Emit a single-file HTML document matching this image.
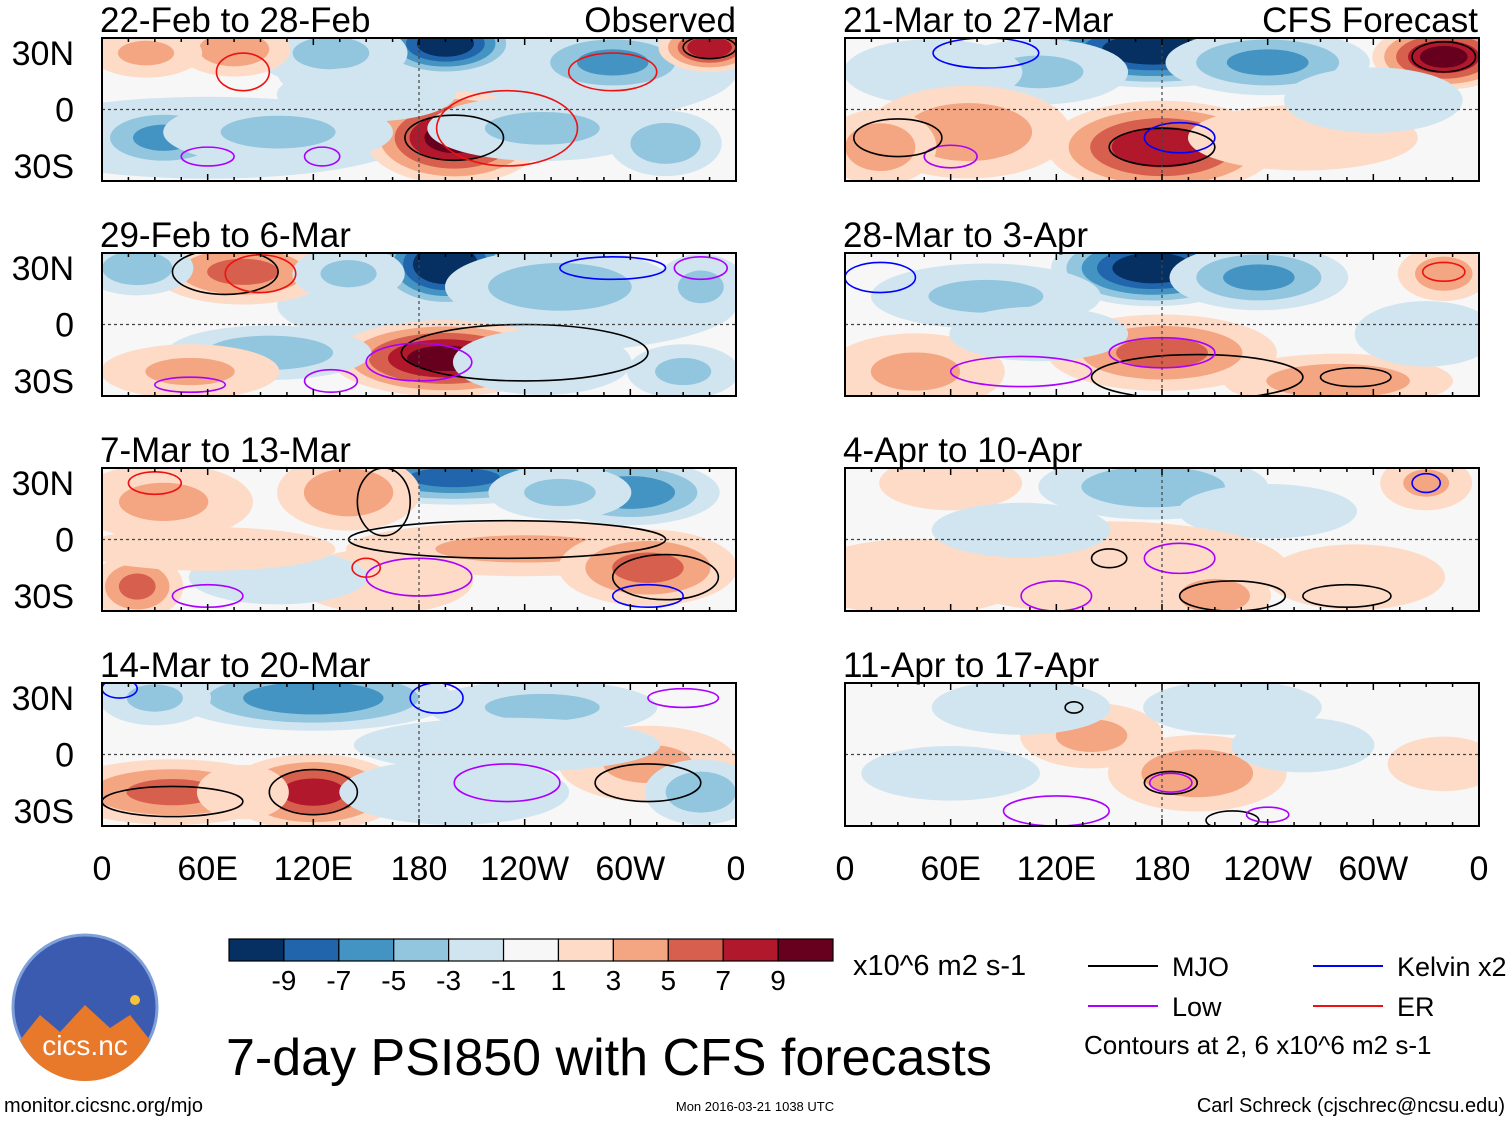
<!DOCTYPE html>
<html><head><meta charset="utf-8">
<style>
body{margin:0;background:#fff;width:1510px;height:1121px;overflow:hidden;font-family:"Liberation Sans",sans-serif}
svg{position:absolute;left:0;top:0}
</style></head>
<body>
<svg id="s" width="1510" height="1121" xmlns="http://www.w3.org/2000/svg">
</svg>
<script>
const levelColors=["#053061","#2166ac","#4393c3","#92c5de","#d1e5f0","#f7f7f7","#fddbc7","#f4a582","#d6604d","#b2182b","#67001f"];
const levelTicks=["-9","-7","-5","-3","-1","1","3","5","7","9"];
const panelTitles=["22-Feb to 28-Feb","29-Feb to 6-Mar","7-Mar to 13-Mar","14-Mar to 20-Mar","21-Mar to 27-Mar","28-Mar to 3-Apr","4-Apr to 10-Apr","11-Apr to 17-Apr"];
const xTickLabels=["0","60E","120E","180","120W","60W","0"];
const xTickLons=[0,60,120,180,240,300,360];
const yTickLabels=["30N","0","30S"];
const yTickLats=[30,0,-30];
// blobs: [lon, lat, lonRadius, latRadius, peak value]
const p1Blobs=[[230,20,90,20,-2],[60,-15,80,15,-2],[195,35,28,12,-10],[290,25,35,12,-5],[130,30,30,12,-3],[75,32,22,10,4],[25,30,22,9,3],[345,33,20,9,8],[200,-15,35,17,9],[35,-15,30,12,-5],[100,-12,45,12,-3],[250,-10,45,12,-3],[320,-18,22,12,-4],[150,8,35,10,-2]];
const p2Blobs=[[230,10,90,18,-2],[195,32,28,16,-11],[260,20,45,14,-4],[80,28,35,12,5],[140,27,22,10,-3],[20,30,22,10,-4],[195,-18,45,14,9],[95,-15,40,10,-4],[250,-20,35,12,-2],[330,-25,22,10,-3],[340,20,18,12,-3],[50,-25,35,10,3]];
const p3Blobs=[[200,33,50,10,-7],[300,25,35,12,-6],[140,25,28,14,4],[35,20,35,14,3],[240,-5,70,10,3],[310,-15,35,14,5],[20,-25,18,12,5],[160,-22,35,12,2],[100,-20,35,10,-2],[260,25,28,10,-3],[60,-5,50,8,1.5]];
const p4Blobs=[[120,30,55,12,-6],[250,25,45,10,-3],[30,30,22,10,-3],[120,-20,35,14,7],[40,-20,45,12,5],[310,-5,35,14,3],[340,-20,22,12,-4],[200,-20,45,12,-2],[80,-20,18,10,2],[230,5,60,10,-1.5]];
const p5Blobs=[[175,32,50,14,-10],[240,25,40,12,-5],[340,28,28,12,9],[110,20,35,12,-3],[50,20,35,12,-2],[70,-12,40,17,4],[180,-20,45,17,8],[260,-15,45,12,2],[20,-20,22,14,4],[300,5,35,12,-2]];
const p6Blobs=[[175,30,40,14,-10],[235,25,35,12,-5],[340,27,18,10,4],[80,15,45,12,-3],[180,-15,45,14,5],[280,-30,45,10,4],[40,-25,35,14,3],[110,-5,35,10,-2],[330,-5,28,12,-2]];
const p7Blobs=[[175,28,45,12,-4],[240,15,35,10,-2],[330,30,18,10,3],[60,30,28,10,2],[150,-15,70,17,2],[210,-30,22,10,4],[40,-20,45,14,2],[290,-20,35,12,2],[100,5,35,10,-1.5]];
const p8Blobs=[[140,10,28,12,3],[200,-10,35,14,4],[260,5,28,10,-2],[100,25,35,10,-1.5],[340,-5,22,10,2],[60,-10,35,10,-1.5],[220,25,35,10,-2]];
// contour lines: [lon, lat, lonRadius, latRadius, color]
const p1Lines=[[200,-15,28,12,"#000"],[230,-10,40,20,"#e11"],[290,20,25,10,"#e11"],[80,20,15,10,"#e11"],[60,-25,15,5,"#a0f"],[125,-25,10,5,"#a0f"],[345,33,15,6,"#000"]];
const p2Lines=[[240,-15,70,15,"#000"],[180,-20,30,10,"#a0f"],[70,28,30,12,"#000"],[90,27,20,10,"#e11"],[50,-32,20,4,"#a0f"],[130,-30,15,6,"#a0f"],[290,30,30,6,"#00f"],[340,30,15,6,"#a0f"]];
const p3Lines=[[230,0,90,10,"#000"],[160,20,15,18,"#000"],[60,-30,20,6,"#a0f"],[180,-20,30,10,"#a0f"],[320,-20,30,12,"#000"],[150,-15,8,5,"#e11"],[30,30,15,6,"#e11"],[310,-30,20,6,"#00f"]];
const p4Lines=[[120,-20,25,12,"#000"],[40,-25,40,8,"#000"],[230,-15,30,10,"#a0f"],[190,30,15,8,"#00f"],[310,-15,30,10,"#000"],[330,30,20,5,"#a0f"],[10,35,10,5,"#00f"]];
const p5Lines=[[180,-20,30,10,"#000"],[340,28,18,8,"#000"],[60,-25,15,6,"#a0f"],[30,-15,25,10,"#000"],[190,-15,20,8,"#00f"],[80,30,30,8,"#00f"]];
const p6Lines=[[200,-28,60,12,"#000"],[100,-25,40,8,"#a0f"],[180,-15,30,8,"#a0f"],[340,28,12,5,"#e11"],[20,25,20,8,"#00f"],[290,-28,20,5,"#000"]];
const p7Lines=[[190,-10,20,8,"#a0f"],[150,-10,10,5,"#000"],[220,-30,30,8,"#000"],[120,-30,20,8,"#a0f"],[285,-30,25,6,"#000"],[330,30,8,5,"#00f"]];
const p8Lines=[[185,-15,15,6,"#000"],[185,-15,12,5,"#a0f"],[120,-30,30,8,"#a0f"],[130,25,5,3,"#000"],[220,-35,15,5,"#000"],[240,-32,12,4,"#a0f"]];
const allBlobs=[p1Blobs,p2Blobs,p3Blobs,p4Blobs,p5Blobs,p6Blobs,p7Blobs,p8Blobs];
const allLines=[p1Lines,p2Lines,p3Lines,p4Lines,p5Lines,p6Lines,p7Lines,p8Lines];

const NS="http://www.w3.org/2000/svg";
const svg=document.getElementById('s');
function el(t,a,p){const e=document.createElementNS(NS,t);for(const k in a)e.setAttribute(k,a[k]);(p||svg).appendChild(e);return e;}
const PW=634,PH=143,LAT=38,GROW=1.45;
const colX=[102,845],rowY=[38,253,468,683];
function lonX(x0,lon){return x0+lon/360*PW;}
function latY(y0,lat){return y0+(LAT-lat)/(2*LAT)*PH;}
function colorFor(v){const th=[-9,-7,-5,-3,-1,1,3,5,7,9];let i=0;while(i<th.length&&v>=th[i])i++;return levelColors[i];}

for(let p=0;p<8;p++){
  const x0=colX[p<4?0:1],y0=rowY[p%4];
  const g=el('g',{});
  
  
  const cp=el('clipPath',{id:'c'+p},svg);
  el('rect',{x:x0,y:y0,width:PW,height:PH},cp);
  el('rect',{x:x0,y:y0,width:PW,height:PH,fill:'#f7f7f7'},g);
  const inner=el('g',{'clip-path':'url(#c'+p+')'},g);
  allBlobs[p].forEach(b=>{
    const [lon,lat,rl,rt,v]=b;const s=Math.sign(v),a=Math.abs(v);
    const th=[1,3,5,7,9].filter(t=>t<=a);
    th.forEach(t=>{
      const f=GROW*(1-(t-1)/a*0.75);
      const e=el('ellipse',{cx:lonX(x0,lon),cy:latY(y0,lat),rx:rl/360*PW*f,ry:rt/(2*LAT)*PH*f,fill:colorFor(s*(t+0.5))},inner);
      
      
    });
  });
  allLines[p].forEach(l=>{
    const e=el('ellipse',{cx:lonX(x0,l[0]),cy:latY(y0,l[1]),rx:l[2]/360*PW,ry:l[3]/(2*LAT)*PH,fill:'none',stroke:l[4],'stroke-width':1.6},inner);
    
    
  });
  el('line',{x1:x0,x2:x0+PW,y1:latY(y0,0),y2:latY(y0,0),stroke:'#444','stroke-dasharray':'3,3','stroke-width':1.2},g);
  el('line',{x1:lonX(x0,180),x2:lonX(x0,180),y1:y0,y2:y0+PH,stroke:'#444','stroke-dasharray':'3,3','stroke-width':1.2},g);
  el('rect',{x:x0,y:y0,width:PW,height:PH,fill:'none',stroke:'#000','stroke-width':2},g);
  for(let lon=0;lon<=360;lon+=15){const big=lon%60==0;const x=lonX(x0,lon);
    el('line',{x1:x,x2:x,y1:y0,y2:y0+(big?7:4),stroke:'#000','stroke-width':1.5},g);
    el('line',{x1:x,x2:x,y1:y0+PH,y2:y0+PH-(big?7:4),stroke:'#000','stroke-width':1.5},g);}
  const t=el('text',{x:x0-2,y:y0-6,'font-size':35,fill:'#000'},g);t.textContent=panelTitles[p];
  
  if(p<4){yTickLats.forEach((la,i)=>{const tt=el('text',{x:74,y:latY(y0,la)+12,'font-size':34,'text-anchor':'end'},g);tt.textContent=yTickLabels[i];
    });}
}
const o=el('text',{x:736,y:32,'font-size':35,'text-anchor':'end'});o.textContent='Observed';
const c=el('text',{x:1478,y:32,'font-size':35,'text-anchor':'end'});c.textContent='CFS Forecast';
colX.forEach(x0=>xTickLons.forEach((lon,i)=>{const t=el('text',{x:lonX(x0,lon),y:880,'font-size':34,'text-anchor':'middle'});t.textContent=xTickLabels[i];
  }));
const cbX=229,cbW=604/11;
levelColors.forEach((col,i)=>{const r=el('rect',{x:cbX+i*cbW,y:939,width:cbW,height:22,fill:col,stroke:'#000','stroke-width':1.2});
  });
levelTicks.forEach((l,i)=>{const t=el('text',{x:cbX+(i+1)*cbW,y:990,'font-size':28,'text-anchor':'middle'});t.textContent=l;
  });
function txt(x,y,s,str,name,anchor){const t=el('text',{x:x,y:y,'font-size':s,'text-anchor':anchor||'start'});t.textContent=str;return t;}
txt(853,975,29,'x10^6 m2 s-1','colorbar-units');
txt(226,1075,52,'7-day PSI850 with CFS forecasts','figure-title');
const leg=[[1088,966,'#000','MJO'],[1088,1006,'#a0f','Low'],[1313,966,'#00f','Kelvin x2'],[1313,1006,'#e11','ER']];
leg.forEach(l=>{el('line',{x1:l[0],x2:l[0]+70,y1:l[1],y2:l[1],stroke:l[2],'stroke-width':2});txt(l[0]+84,l[1]+10,27,l[3],'legend-entry');});
txt(1084,1054,26,'Contours at 2, 6 x10^6 m2 s-1','contour-note');
txt(4,1112,20,'monitor.cicsnc.org/mjo','source-url');
txt(755,1111,13,'Mon 2016-03-21 1038 UTC','timestamp','middle');
txt(1505,1112,20,'Carl Schreck (cjschrec@ncsu.edu)','author-credit','end');
const lg=el('g',{});
el('circle',{cx:85,cy:1007,r:72,fill:'#3a5bb0'},lg);
el('circle',{cx:85,cy:1007,r:72,fill:'none',stroke:'#7fa0d8','stroke-width':3},lg);
el('path',{d:'M20,1040 L40,1015 L60,1032 L85,1005 L110,1028 L130,1015 L150,1040 A72,72 0 0 1 20,1040Z',fill:'#e8782a'},lg);
el('circle',{cx:135,cy:1000,r:5,fill:'#f7c23a'},lg);
const lt=el('text',{x:85,y:1055,'font-size':28,'text-anchor':'middle',fill:'#fff'},lg);lt.textContent='cics.nc';
</script>
</body></html>
